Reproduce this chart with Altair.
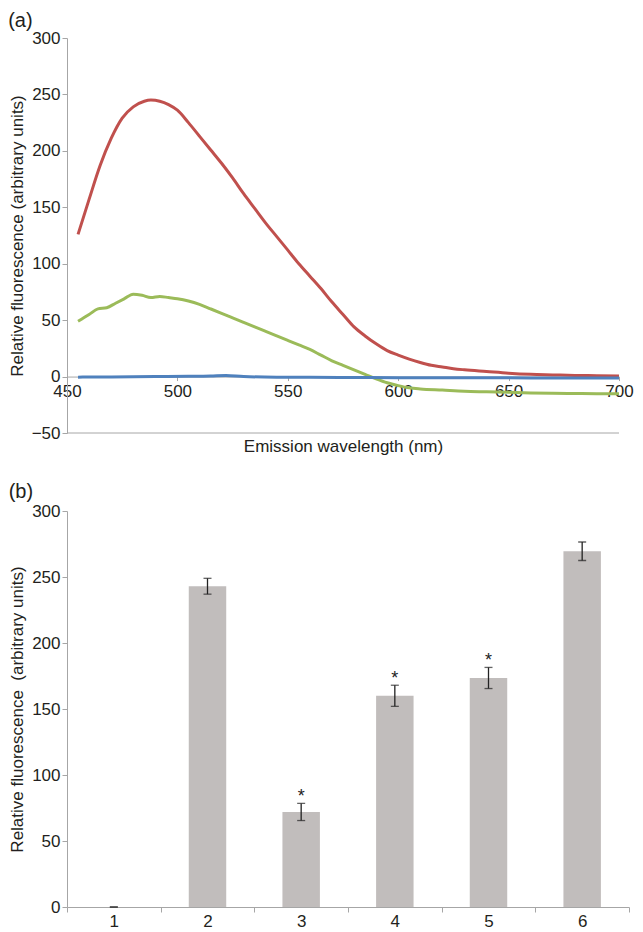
import altair as alt
import pandas as pd

# ---------------- data: panel (a) emission spectra ----------------
red_wl = [455, 460, 465, 470, 475, 480, 485, 488, 492, 496, 500, 505, 510, 515, 520,
          525, 530, 535, 540, 545, 550, 555, 560, 565, 570, 575, 580, 585, 590, 595,
          600, 605, 610, 615, 620, 625, 630, 640, 650, 660, 670, 680, 690, 700]
red_val = [126, 157, 187, 211, 229, 239, 244, 245, 244, 241, 236, 225, 213, 201, 189,
           176, 162, 149, 136, 124, 112, 100, 89, 78, 66, 55, 44, 36, 29, 23,
           19, 15.5, 12.5, 10, 8.5, 7, 6, 4.5, 3, 2, 1.5, 1, 0.8, 0.5]

green_wl = [455, 460, 464, 468, 472, 476, 480, 484, 488, 492, 496, 500, 505, 510, 515,
            520, 525, 530, 535, 540, 545, 550, 555, 560, 565, 570, 575, 580, 585, 590,
            595, 600, 605, 610, 620, 630, 640, 650, 660, 670, 680, 690, 700]
green_val = [49, 55, 60, 61, 65, 69, 73, 72, 70, 71, 70, 69, 67, 64, 60,
             56, 52, 48, 44, 40, 36, 32, 28, 24, 19, 14, 10, 6, 2, -2,
             -5.5, -8, -10, -11, -12, -13, -13.5, -14, -14.5, -14.8, -15, -15.2, -15.3]

blue_wl = [455, 470, 490, 505, 515, 522, 530, 545, 560, 580, 600, 630, 660, 700]
blue_val = [-0.5, -0.3, 0, 0.2, 0.5, 1, 0, -0.5, -0.6, -0.8, -1, -1, -1.2, -1.3]

series_names = ["Spectrum 1", "Spectrum 2", "Spectrum 3"]
series_colors = ["#c0504d", "#9bbb59", "#4f81bd"]

# ---------------- data: panel (b) bar chart ----------------
bar_cat = [1, 2, 3, 4, 5, 6]
bar_val = [0, 243, 72, 160, 173.5, 269.5]
bar_err = [0, 6, 6.5, 8, 8, 7]
bar_star = ["", "", "*", "*", "*", ""]

y_ticks_a = [-50, 0, 50, 100, 150, 200, 250, 300]
x_ticks_a = [450, 500, 550, 600, 650, 700]
y_ticks_b = [0, 50, 100, 150, 200, 250, 300]
x_ticks_b = [0.5, 1, 1.5, 2, 2.5, 3, 3.5, 4, 4.5, 5, 5.5, 6, 6.5]
baseline_rule = [-50]

# ---------------- styling ----------------
FONT = "Liberation Sans"
TEXT = "#231f20"
GRAY = "#a6a6a6"
FS = 17

rows = []
for name, wls, vals in zip(series_names, [red_wl, green_wl, blue_wl],
                           [red_val, green_val, blue_val]):
    rows += [{"series": name, "wl": w, "val": v} for w, v in zip(wls, vals)]
lines_df = pd.DataFrame(rows)
rule_df = pd.DataFrame({"y": baseline_rule})

W_A, H_A = 552, 395
zero_offset = -(0 - (-50)) / (300 - (-50)) * H_A

axis_common = dict(
    grid=False, domainColor=GRAY, tickColor=GRAY, labelColor=TEXT, titleColor=TEXT,
    labelFont=FONT, titleFont=FONT, labelFontSize=FS, titleFontSize=FS,
    titleFontWeight="normal",
)

lines = alt.Chart(lines_df).mark_line(strokeWidth=3, interpolate="monotone").encode(
    x=alt.X("wl:Q", scale=alt.Scale(domain=[450, 700], nice=False, zero=False),
            axis=alt.Axis(title="Emission wavelength (nm)", values=x_ticks_a,
                          offset=zero_offset, labelFlush=False, tickSize=4,
                          labelPadding=3, titlePadding=39, **axis_common)),
    y=alt.Y("val:Q", scale=alt.Scale(domain=[-50, 300], nice=False),
            axis=alt.Axis(title="Relative fluorescence (arbitrary units)",
                          values=y_ticks_a, tickSize=5, labelPadding=2,
                          titlePadding=5, **axis_common)),
    color=alt.Color("series:N", scale=alt.Scale(domain=series_names, range=series_colors),
                    legend=None),
    order=alt.Order("wl:Q"),
)

bottom_line = alt.Chart(rule_df).mark_rule(color=GRAY, strokeWidth=1).encode(
    y=alt.Y("y:Q")
)

panel_a = alt.layer(bottom_line, lines).properties(
    width=W_A, height=H_A,
    title=alt.TitleParams("(a)", anchor="start", frame="bounds", fontSize=20,
                          fontWeight="normal", font=FONT, color=TEXT, offset=-2),
)

bars_df = pd.DataFrame({"cat": bar_cat, "val": bar_val, "err": bar_err, "star": bar_star})

base_b = alt.Chart(bars_df).transform_calculate(
    lo="datum.val - datum.err", hi="datum.val + datum.err",
    x0="datum.cat - 0.2", x1="datum.cat + 0.2",
)

x_b_scale = alt.Scale(domain=[0.5, 6.5], nice=False, zero=False)
y_b_scale = alt.Scale(domain=[0, 300], nice=False)

bars = base_b.mark_bar(color="#c1bdbc").encode(
    x=alt.X("x0:Q", scale=x_b_scale,
            axis=alt.Axis(title=None, values=x_ticks_b, labelFlush=False, tickSize=5,
                          labelPadding=1,
                          labelExpr="datum.value % 1 === 0 ? format(datum.value, 'd') : ''",
                          tickOpacity={"condition": {"test": "datum.value % 1 !== 0",
                                                     "value": 1}, "value": 0},
                          **axis_common)),
    x2="x1:Q",
    y=alt.Y("val:Q", scale=y_b_scale,
            axis=alt.Axis(title="Relative fluorescence\u00a0 (arbitrary units)",
                          values=y_ticks_b, tickSize=5, labelPadding=2,
                          titlePadding=5, **axis_common)),
    y2=alt.datum(0),
)

err_rule = base_b.mark_rule(color="#222222", strokeWidth=1.3).encode(
    x="cat:Q", y="lo:Q", y2="hi:Q"
)
cap_lo = base_b.mark_tick(color="#222222", orient="horizontal", size=8, thickness=1.3).encode(
    x="cat:Q", y="lo:Q"
)
cap_hi = base_b.mark_tick(color="#222222", orient="horizontal", size=8, thickness=1.3).encode(
    x="cat:Q", y="hi:Q"
)
stars = base_b.mark_text(font=FONT, fontSize=18, color="#222222", baseline="alphabetic",
                         dy=-1).encode(
    x="cat:Q", y="hi:Q", text="star:N"
)

panel_b = alt.layer(bars, err_rule, cap_lo, cap_hi, stars).properties(
    width=562, height=396,
    title=alt.TitleParams("(b)", anchor="start", frame="bounds", fontSize=20,
                          fontWeight="normal", font=FONT, color=TEXT, offset=0),
)

chart = alt.vconcat(panel_a, panel_b, spacing=27).properties(
    padding={"left": 0, "top": 3, "right": 0, "bottom": 0}
).configure_view(stroke=None)

chart.save("out.html", embed_options={"renderer": "svg", "actions": False})
